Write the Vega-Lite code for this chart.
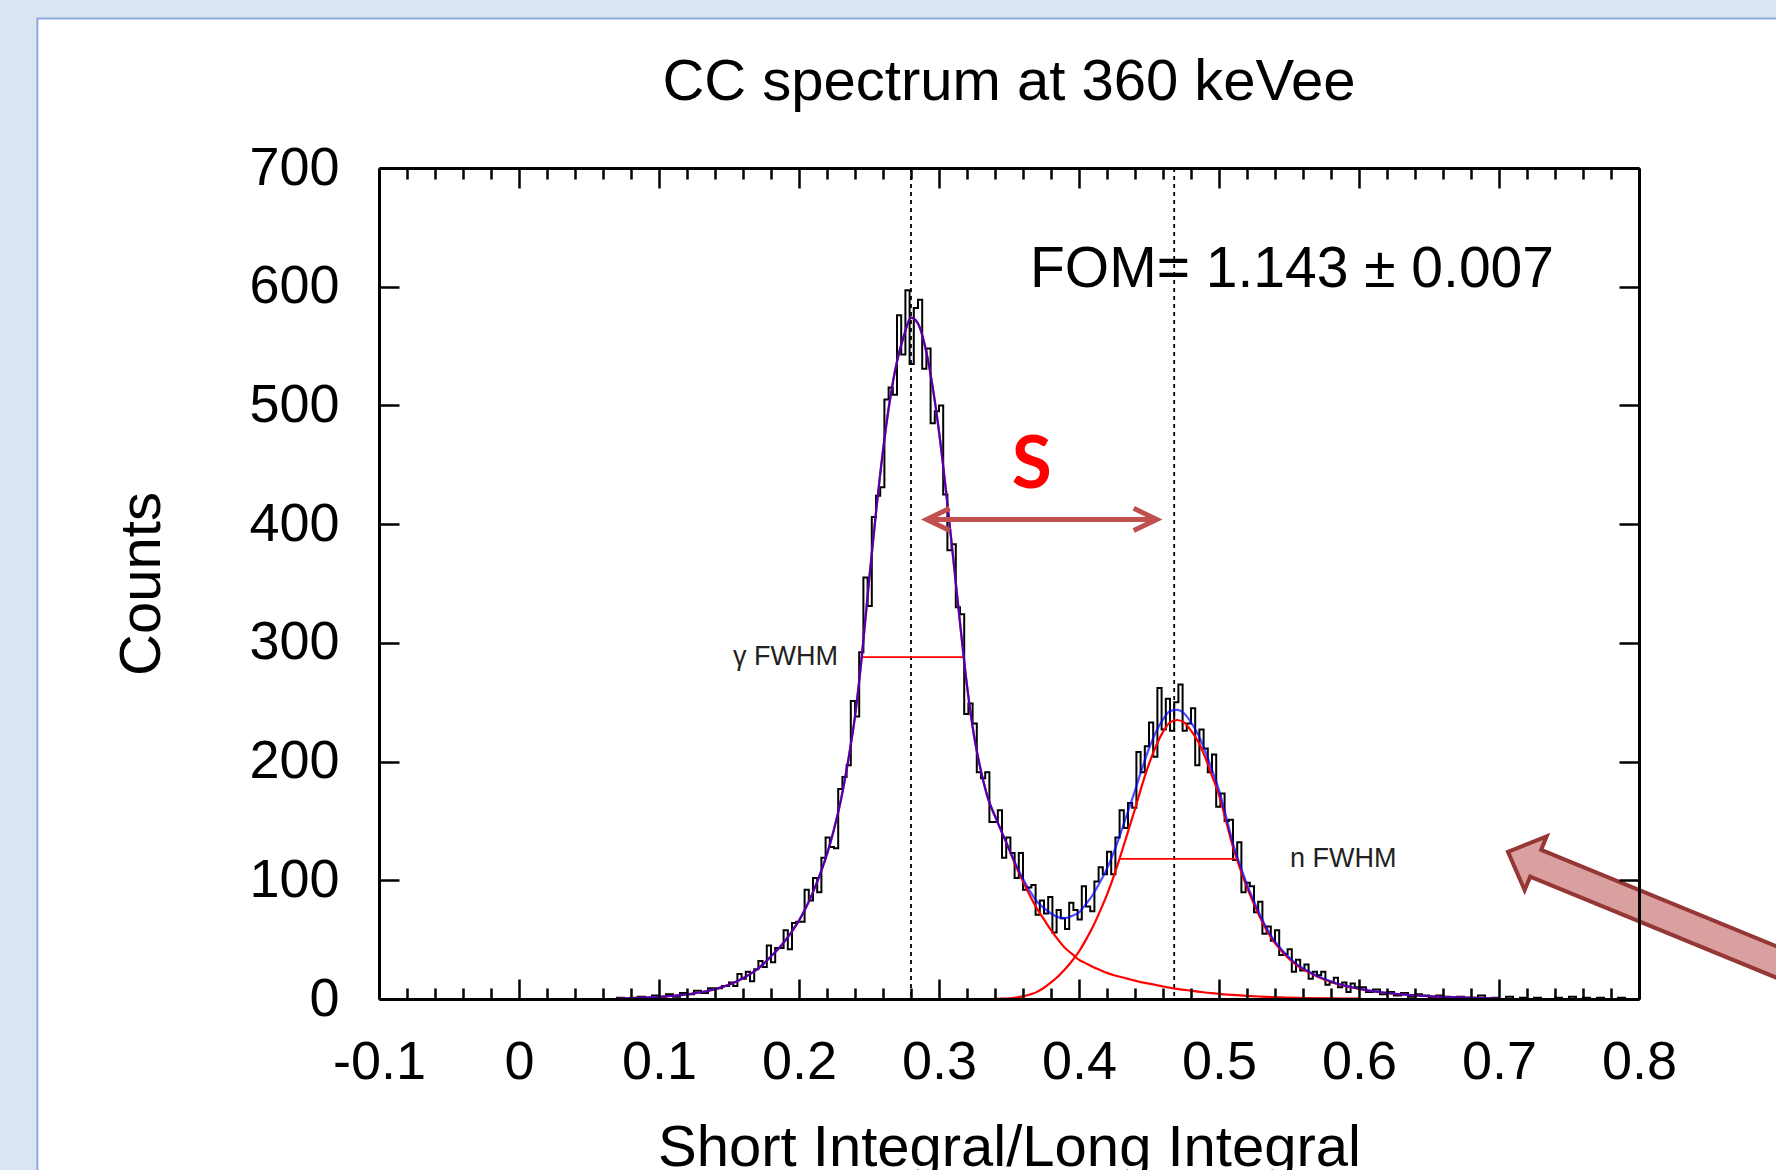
{
  "$schema": "https://vega.github.io/schema/vega-lite/v6.json",
  "width": 1260,
  "height": 831,
  "autosize": {"type": "none"},
  "padding": {"left": 379, "top": 168, "right": 137, "bottom": 171},
  "background": "#dbe5f1",
  "config": {
    "view": {"stroke": null},
    "axis": {
      "grid": false,
      "labelFont": "Liberation Sans",
      "labelFontSize": 54,
      "labelColor": "#000000",
      "labelFlush": false,
      "labelOverlap": false,
      "titleFont": "Liberation Sans",
      "titleFontSize": 58,
      "titleFontWeight": "normal",
      "titleColor": "#000000",
      "tickColor": "#000000",
      "tickWidth": 2.5,
      "domainColor": "#000000",
      "domainWidth": 3
    }
  },
  "datasets": {
    "hist": [
      {"x":0.06,"y":0},{"x":0.065,"y":0},{"x":0.07,"y":1},{"x":0.075,"y":0},{"x":0.08,"y":1},{"x":0.085,"y":2},{"x":0.09,"y":1},{"x":0.095,"y":3},{"x":0.1,"y":2},{"x":0.105,"y":4},{"x":0.11,"y":2},{"x":0.115,"y":5},{"x":0.12,"y":4},{"x":0.125,"y":7},{"x":0.13,"y":5},{"x":0.135,"y":9},{"x":0.14,"y":9},{"x":0.145,"y":11},
      {"x":0.150,"y":14},{"x":0.153,"y":11},{"x":0.156,"y":21},{"x":0.159,"y":17},{"x":0.162,"y":23},{"x":0.165,"y":15},{"x":0.168,"y":25},{"x":0.171,"y":32},{"x":0.174,"y":27},{"x":0.177,"y":45},
      {"x":0.180,"y":31},{"x":0.183,"y":43},{"x":0.186,"y":43},{"x":0.189,"y":58},{"x":0.192,"y":42},{"x":0.195,"y":64},{"x":0.198,"y":65},{"x":0.201,"y":65},{"x":0.204,"y":92},{"x":0.207,"y":83},
      {"x":0.210,"y":102},{"x":0.213,"y":90},{"x":0.216,"y":119},{"x":0.219,"y":136},{"x":0.222,"y":128},{"x":0.225,"y":127},{"x":0.228,"y":177},{"x":0.231,"y":187},{"x":0.234,"y":197},{"x":0.237,"y":251},
      {"x":0.240,"y":238},{"x":0.243,"y":292},{"x":0.246,"y":355},{"x":0.249,"y":331},{"x":0.252,"y":406},{"x":0.255,"y":424},{"x":0.258,"y":431},{"x":0.261,"y":505},{"x":0.264,"y":515},{"x":0.267,"y":509},
      {"x":0.270,"y":576},{"x":0.273,"y":543},{"x":0.276,"y":597},{"x":0.279,"y":535},{"x":0.282,"y":582},{"x":0.285,"y":589},{"x":0.288,"y":531},{"x":0.291,"y":548},{"x":0.294,"y":485},{"x":0.297,"y":495},
      {"x":0.300,"y":500},{"x":0.303,"y":425},{"x":0.306,"y":378},{"x":0.309,"y":383},{"x":0.312,"y":330},{"x":0.315,"y":324},{"x":0.318,"y":240},{"x":0.321,"y":249},{"x":0.324,"y":232},{"x":0.327,"y":191},
      {"x":0.330,"y":186},{"x":0.333,"y":191},{"x":0.336,"y":149},{"x":0.339,"y":149},{"x":0.342,"y":159},{"x":0.345,"y":119},{"x":0.348,"y":136},{"x":0.351,"y":123},{"x":0.354,"y":102},{"x":0.357,"y":123},
      {"x":0.360,"y":92},{"x":0.363,"y":94},{"x":0.366,"y":96},{"x":0.369,"y":71},{"x":0.372,"y":83},{"x":0.375,"y":72},{"x":0.378,"y":86},{"x":0.381,"y":56},{"x":0.384,"y":75},{"x":0.387,"y":68},
      {"x":0.390,"y":59},{"x":0.393,"y":81},{"x":0.396,"y":75},{"x":0.399,"y":67},{"x":0.402,"y":95},{"x":0.405,"y":78},{"x":0.408,"y":74},{"x":0.411,"y":99},{"x":0.414,"y":111},{"x":0.417,"y":105},
      {"x":0.420,"y":124},{"x":0.423,"y":105},{"x":0.426,"y":136},{"x":0.429,"y":159},{"x":0.432,"y":144},{"x":0.435,"y":165},{"x":0.438,"y":161},{"x":0.441,"y":208},{"x":0.444,"y":191},{"x":0.447,"y":213},
      {"x":0.450,"y":233},{"x":0.453,"y":204},{"x":0.456,"y":262},{"x":0.459,"y":227},{"x":0.462,"y":253},{"x":0.465,"y":226},{"x":0.468,"y":250},{"x":0.471,"y":265},{"x":0.474,"y":226},{"x":0.477,"y":232},
      {"x":0.480,"y":245},{"x":0.483,"y":197},{"x":0.486,"y":227},{"x":0.489,"y":211},{"x":0.492,"y":191},{"x":0.495,"y":206},{"x":0.498,"y":162},{"x":0.501,"y":173},{"x":0.504,"y":150},{"x":0.507,"y":151},
      {"x":0.510,"y":117},{"x":0.513,"y":132},{"x":0.516,"y":90},{"x":0.519,"y":98},{"x":0.522,"y":95},{"x":0.525,"y":73},{"x":0.528,"y":82},{"x":0.531,"y":55},{"x":0.534,"y":61},{"x":0.537,"y":49},
      {"x":0.540,"y":58},{"x":0.543,"y":37},{"x":0.546,"y":38},{"x":0.549,"y":42},{"x":0.552,"y":23},{"x":0.555,"y":33},{"x":0.558,"y":24},{"x":0.561,"y":29},{"x":0.564,"y":17},{"x":0.567,"y":23},
      {"x":0.570,"y":20},{"x":0.573,"y":23},{"x":0.576,"y":12},{"x":0.579,"y":14},{"x":0.582,"y":18},{"x":0.585,"y":10},{"x":0.588,"y":14},{"x":0.591,"y":6},{"x":0.594,"y":13},{"x":0.597,"y":10},
      {"x":0.600,"y":10},{"x":0.605,"y":6},{"x":0.610,"y":8},{"x":0.615,"y":4},{"x":0.620,"y":6},{"x":0.625,"y":3},{"x":0.630,"y":5},{"x":0.635,"y":2},{"x":0.640,"y":4},{"x":0.645,"y":3},
      {"x":0.650,"y":1},{"x":0.655,"y":3},{"x":0.660,"y":2},{"x":0.665,"y":0},{"x":0.670,"y":2},{"x":0.675,"y":1},{"x":0.680,"y":1},{"x":0.685,"y":3},{"x":0.690,"y":0},{"x":0.695,"y":1},
      {"x":0.700,"y":0},{"x":0.705,"y":2},{"x":0.710,"y":0},{"x":0.715,"y":1},{"x":0.720,"y":0},{"x":0.725,"y":1},{"x":0.730,"y":0},{"x":0.735,"y":0},{"x":0.740,"y":1},{"x":0.745,"y":0},
      {"x":0.750,"y":2},{"x":0.755,"y":0},{"x":0.760,"y":1},{"x":0.765,"y":0},{"x":0.770,"y":1},{"x":0.775,"y":0},{"x":0.780,"y":0},{"x":0.785,"y":1},{"x":0.790,"y":0},{"x":0.795,"y":0},{"x":0.800,"y":0}
    ],
    "fit": [
      {"x":0.07,"y":0.3},{"x":0.075,"y":0.5},{"x":0.08,"y":0.7},{"x":0.085,"y":0.9},{"x":0.09,"y":1.1},{"x":0.095,"y":1.4},{"x":0.1,"y":1.8},{"x":0.105,"y":2.2},{"x":0.11,"y":2.7},{"x":0.115,"y":3.2},
      {"x":0.12,"y":3.9},{"x":0.125,"y":4.7},{"x":0.13,"y":5.7},{"x":0.135,"y":6.9},{"x":0.14,"y":8.3},{"x":0.145,"y":10},{"x":0.15,"y":12},{"x":0.155,"y":14.5},{"x":0.16,"y":17.5},{"x":0.165,"y":21},
      {"x":0.17,"y":25},{"x":0.175,"y":30},{"x":0.18,"y":36},{"x":0.185,"y":42},{"x":0.19,"y":49},{"x":0.195,"y":57},{"x":0.2,"y":66},{"x":0.205,"y":77},{"x":0.21,"y":90},{"x":0.215,"y":105},
      {"x":0.22,"y":122},{"x":0.225,"y":143},{"x":0.23,"y":168},{"x":0.235,"y":200},{"x":0.24,"y":238},{"x":0.245,"y":290},{"x":0.25,"y":352},{"x":0.255,"y":410},{"x":0.26,"y":462},{"x":0.265,"y":505},
      {"x":0.27,"y":537},{"x":0.275,"y":559},{"x":0.28,"y":574},{"x":0.285,"y":569},{"x":0.29,"y":550},{"x":0.295,"y":519},{"x":0.3,"y":478},{"x":0.305,"y":428},{"x":0.31,"y":373},{"x":0.315,"y":317},
      {"x":0.32,"y":264},{"x":0.325,"y":222},{"x":0.33,"y":192},{"x":0.335,"y":169},{"x":0.34,"y":154},{"x":0.345,"y":140.3},{"x":0.35,"y":126.6},{"x":0.355,"y":113.2},{"x":0.36,"y":101.2},{"x":0.365,"y":90.8},
      {"x":0.37,"y":82},{"x":0.375,"y":76.5},{"x":0.38,"y":72},{"x":0.385,"y":69},{"x":0.39,"y":68},{"x":0.395,"y":70},{"x":0.4,"y":73},{"x":0.405,"y":80},{"x":0.41,"y":88},{"x":0.415,"y":98.5},
      {"x":0.42,"y":110},{"x":0.425,"y":124},{"x":0.43,"y":140.5},{"x":0.435,"y":158},{"x":0.44,"y":175.5},{"x":0.445,"y":194},{"x":0.45,"y":211},{"x":0.455,"y":225},{"x":0.46,"y":235.5},{"x":0.465,"y":242.5},
      {"x":0.47,"y":243.5},{"x":0.475,"y":240.7},{"x":0.48,"y":233},{"x":0.485,"y":223},{"x":0.49,"y":209.5},{"x":0.495,"y":193},{"x":0.5,"y":176},{"x":0.505,"y":154},{"x":0.51,"y":131},{"x":0.515,"y":113},
      {"x":0.52,"y":96.6},{"x":0.525,"y":82.3},{"x":0.53,"y":69},{"x":0.535,"y":57.7},{"x":0.54,"y":48.5},{"x":0.545,"y":41.3},{"x":0.55,"y":35.1},{"x":0.555,"y":29.9},{"x":0.56,"y":25.8},{"x":0.565,"y":22.6},
      {"x":0.57,"y":19.6},{"x":0.575,"y":17},{"x":0.58,"y":14.9},{"x":0.585,"y":12.8},{"x":0.59,"y":11.3},{"x":0.595,"y":9.9},{"x":0.6,"y":8.7},{"x":0.61,"y":6.6},{"x":0.62,"y":5.1},{"x":0.63,"y":3.9},
      {"x":0.64,"y":3},{"x":0.65,"y":2.3},{"x":0.66,"y":1.8},{"x":0.67,"y":1.3},{"x":0.68,"y":1},{"x":0.69,"y":0.7},{"x":0.7,"y":0.5}
    ],
    "gam": [
      {"x":0.07,"y":0.3},{"x":0.075,"y":0.5},{"x":0.08,"y":0.7},{"x":0.085,"y":0.9},{"x":0.09,"y":1.1},{"x":0.095,"y":1.4},{"x":0.1,"y":1.8},{"x":0.105,"y":2.2},{"x":0.11,"y":2.7},{"x":0.115,"y":3.2},
      {"x":0.12,"y":3.9},{"x":0.125,"y":4.7},{"x":0.13,"y":5.7},{"x":0.135,"y":6.9},{"x":0.14,"y":8.3},{"x":0.145,"y":10},{"x":0.15,"y":12},{"x":0.155,"y":14.5},{"x":0.16,"y":17.5},{"x":0.165,"y":21},
      {"x":0.17,"y":25},{"x":0.175,"y":30},{"x":0.18,"y":36},{"x":0.185,"y":42},{"x":0.19,"y":49},{"x":0.195,"y":57},{"x":0.2,"y":66},{"x":0.205,"y":77},{"x":0.21,"y":90},{"x":0.215,"y":105},
      {"x":0.22,"y":122},{"x":0.225,"y":143},{"x":0.23,"y":168},{"x":0.235,"y":200},{"x":0.24,"y":238},{"x":0.245,"y":290},{"x":0.25,"y":352},{"x":0.255,"y":410},{"x":0.26,"y":462},{"x":0.265,"y":505},
      {"x":0.27,"y":537},{"x":0.275,"y":559},{"x":0.28,"y":574},{"x":0.285,"y":569},{"x":0.29,"y":550},{"x":0.295,"y":519},{"x":0.3,"y":478},{"x":0.305,"y":428},{"x":0.31,"y":373},{"x":0.315,"y":317},
      {"x":0.32,"y":264},{"x":0.325,"y":222},{"x":0.33,"y":192},{"x":0.335,"y":169},{"x":0.34,"y":154},{"x":0.345,"y":140},{"x":0.35,"y":126},{"x":0.355,"y":112},{"x":0.36,"y":99},{"x":0.365,"y":87},
      {"x":0.37,"y":76},{"x":0.375,"y":67},{"x":0.38,"y":58},{"x":0.385,"y":50},{"x":0.39,"y":43},{"x":0.395,"y":38},{"x":0.4,"y":33},{"x":0.405,"y":30},{"x":0.41,"y":27},{"x":0.415,"y":24.5},
      {"x":0.42,"y":22},{"x":0.425,"y":20},{"x":0.43,"y":18.5},{"x":0.435,"y":17},{"x":0.44,"y":15.5},{"x":0.445,"y":14},{"x":0.45,"y":13},{"x":0.455,"y":11.8},{"x":0.46,"y":10.5},{"x":0.465,"y":9.5},
      {"x":0.47,"y":8.5},{"x":0.475,"y":7.7},{"x":0.48,"y":7},{"x":0.485,"y":6.2},{"x":0.49,"y":5.5},{"x":0.495,"y":4.9},{"x":0.5,"y":4.3},{"x":0.51,"y":3.4},{"x":0.52,"y":2.6},{"x":0.53,"y":2},
      {"x":0.54,"y":1.5},{"x":0.55,"y":1.1},{"x":0.56,"y":0.8},{"x":0.58,"y":0.45},{"x":0.6,"y":0.25}
    ],
    "neu": [
      {"x":0.34,"y":0.1},{"x":0.345,"y":0.3},{"x":0.35,"y":0.6},{"x":0.355,"y":1.2},{"x":0.36,"y":2.2},{"x":0.365,"y":3.8},{"x":0.37,"y":6},{"x":0.375,"y":9.5},{"x":0.38,"y":14},{"x":0.385,"y":19},
      {"x":0.39,"y":25},{"x":0.395,"y":32},{"x":0.4,"y":40},{"x":0.405,"y":50},{"x":0.41,"y":61},{"x":0.415,"y":74},{"x":0.42,"y":88},{"x":0.425,"y":104},{"x":0.43,"y":122},{"x":0.435,"y":141},
      {"x":0.44,"y":160},{"x":0.445,"y":180},{"x":0.45,"y":198},{"x":0.455,"y":213},{"x":0.46,"y":225},{"x":0.465,"y":233},{"x":0.47,"y":235},{"x":0.475,"y":233},{"x":0.48,"y":226},{"x":0.485,"y":217},
      {"x":0.49,"y":204},{"x":0.495,"y":188},{"x":0.5,"y":172},{"x":0.505,"y":150},{"x":0.51,"y":128},{"x":0.515,"y":110},{"x":0.52,"y":94},{"x":0.525,"y":80},{"x":0.53,"y":67},{"x":0.535,"y":56},
      {"x":0.54,"y":47},{"x":0.545,"y":40},{"x":0.55,"y":34},{"x":0.555,"y":29},{"x":0.56,"y":25},{"x":0.565,"y":22},{"x":0.57,"y":19},{"x":0.575,"y":16.5},{"x":0.58,"y":14.5},{"x":0.585,"y":12.5},
      {"x":0.59,"y":11},{"x":0.595,"y":9.7},{"x":0.6,"y":8.5},{"x":0.61,"y":6.5},{"x":0.62,"y":5},{"x":0.63,"y":3.9},{"x":0.64,"y":3},{"x":0.65,"y":2.3},{"x":0.66,"y":1.8},{"x":0.67,"y":1.3},
      {"x":0.68,"y":1},{"x":0.69,"y":0.7},{"x":0.7,"y":0.5}
    ]
  },
  "resolve": {"axis": {"x": "independent", "y": "independent"}},
  "layer": [
    {
      "data": {"values": [{}]},
      "mark": {"type": "rect", "fill": "#ffffff", "stroke": "#8eaadb", "strokeWidth": 2},
      "encoding": {
        "x": {"datum": -0.344, "type": "quantitative", "scale": {"domain": [-0.1, 0.8], "nice": false, "zero": false}, "axis": null},
        "x2": {"datum": 1.3},
        "y": {"datum": 826, "type": "quantitative", "scale": {"domain": [0, 700], "nice": false, "zero": false}, "axis": null},
        "y2": {"datum": -400}
      }
    },
    {
      "data": {"values": [{"x": 0.28}, {"x": 0.468}]},
      "mark": {"type": "rule", "color": "#000000", "strokeWidth": 1.8, "strokeDash": [4, 4]},
      "encoding": {
        "x": {"field": "x", "type": "quantitative", "scale": {"domain": [-0.1, 0.8], "nice": false, "zero": false}, "axis": null}
      }
    },
    {
      "data": {"name": "hist"},
      "mark": {"type": "line", "interpolate": "step-after", "color": "#000000", "strokeWidth": 2},
      "encoding": {
        "x": {"field": "x", "type": "quantitative", "scale": {"domain": [-0.1, 0.8], "nice": false, "zero": false},
          "axis": {"orient": "bottom", "zindex": 1, "values": [-0.1, 0, 0.1, 0.2, 0.3, 0.4, 0.5, 0.6, 0.7, 0.8], "tickSize": -20, "labelPadding": 56, "labelExpr": "'' + datum.value", "title": "Short Integral/Long Integral", "titlePadding": 30, "domain": true}},
        "y": {"field": "y", "type": "quantitative", "scale": {"domain": [0, 700], "nice": false, "zero": false},
          "axis": {"orient": "left", "zindex": 1, "values": [0, 100, 200, 300, 400, 500, 600, 700], "tickSize": -20, "labelPadding": 60, "title": "Counts", "titlePadding": 77, "domain": true}}
      }
    },
    {
      "data": {"values": [{"x": 0.2448, "x2": 0.3174, "y": 288}, {"x": 0.4293, "x2": 0.5114, "y": 118}]},
      "mark": {"type": "rule", "color": "#ff0000", "strokeWidth": 1.8},
      "encoding": {
        "x": {"field": "x", "type": "quantitative", "scale": {"domain": [-0.1, 0.8], "nice": false, "zero": false}, "axis": null},
        "x2": {"field": "x2"},
        "y": {"field": "y", "type": "quantitative", "scale": {"domain": [0, 700], "nice": false, "zero": false}, "axis": null}
      }
    },
    {
      "data": {"name": "gam"},
      "mark": {"type": "line", "interpolate": "monotone", "color": "#ff0000", "strokeWidth": 2.2},
      "encoding": {
        "x": {"field": "x", "type": "quantitative", "scale": {"domain": [-0.1, 0.8], "nice": false, "zero": false},
          "axis": {"orient": "top", "zindex": 1, "values": [-0.1, 0, 0.1, 0.2, 0.3, 0.4, 0.5, 0.6, 0.7, 0.8], "tickSize": -20, "labels": false, "title": null, "domain": true}},
        "y": {"field": "y", "type": "quantitative", "scale": {"domain": [0, 700], "nice": false, "zero": false}, "axis": null}
      }
    },
    {
      "data": {"name": "neu"},
      "mark": {"type": "line", "interpolate": "monotone", "color": "#ff0000", "strokeWidth": 2.2},
      "encoding": {
        "x": {"field": "x", "type": "quantitative", "scale": {"domain": [-0.1, 0.8], "nice": false, "zero": false},
          "axis": {"orient": "top", "zindex": 1, "values": [-0.08,-0.06,-0.04,-0.02,0.02,0.04,0.06,0.08,0.12,0.14,0.16,0.18,0.22,0.24,0.26,0.28,0.32,0.34,0.36,0.38,0.42,0.44,0.46,0.48,0.52,0.54,0.56,0.58,0.62,0.64,0.66,0.68,0.72,0.74,0.76,0.78], "tickSize": -11, "labels": false, "title": null, "domain": false}},
        "y": {"field": "y", "type": "quantitative", "scale": {"domain": [0, 700], "nice": false, "zero": false}, "axis": null}
      }
    },
    {
      "data": {"name": "fit"},
      "mark": {"type": "line", "interpolate": "monotone", "color": "#0000ff", "strokeWidth": 2.2, "opacity": 0.7},
      "encoding": {
        "x": {"field": "x", "type": "quantitative", "scale": {"domain": [-0.1, 0.8], "nice": false, "zero": false},
          "axis": {"orient": "bottom", "zindex": 1, "values": [-0.08,-0.06,-0.04,-0.02,0.02,0.04,0.06,0.08,0.12,0.14,0.16,0.18,0.22,0.24,0.26,0.28,0.32,0.34,0.36,0.38,0.42,0.44,0.46,0.48,0.52,0.54,0.56,0.58,0.62,0.64,0.66,0.68,0.72,0.74,0.76,0.78], "tickSize": -11, "labels": false, "title": null, "domain": false}},
        "y": {"field": "y", "type": "quantitative", "scale": {"domain": [0, 700], "nice": false, "zero": false},
          "axis": {"orient": "right", "zindex": 1, "values": [0, 100, 200, 300, 400, 500, 600, 700], "tickSize": -20, "labels": false, "title": null, "domain": true}}
      }
    },
    {
      "data": {"values": [{"x": 0.35, "y": 757.4, "t": "CC spectrum at 360 keVee"}]},
      "mark": {"type": "text", "font": "Liberation Sans", "fontSize": 58, "align": "center", "baseline": "alphabetic", "color": "#000000"},
      "encoding": {
        "x": {"field": "x", "type": "quantitative", "scale": {"domain": [-0.1, 0.8], "nice": false, "zero": false}, "axis": null},
        "y": {"field": "y", "type": "quantitative", "scale": {"domain": [0, 700], "nice": false, "zero": false}, "axis": null},
        "text": {"field": "t"}
      }
    },
    {
      "data": {"values": [{"x": 0.365, "y": 600, "t": "FOM= 1.143 ± 0.007"}]},
      "mark": {"type": "text", "font": "Liberation Sans", "fontSize": 57, "align": "left", "baseline": "alphabetic", "color": "#000000"},
      "encoding": {
        "x": {"field": "x", "type": "quantitative", "scale": {"domain": [-0.1, 0.8], "nice": false, "zero": false}, "axis": null},
        "y": {"field": "y", "type": "quantitative", "scale": {"domain": [0, 700], "nice": false, "zero": false}, "axis": null},
        "text": {"field": "t"}
      }
    },
    {
      "data": {"values": [{"x": 0.2279, "y": 288, "t": "γ FWHM"}]},
      "mark": {"type": "text", "font": "Liberation Sans", "fontSize": 27, "align": "right", "baseline": "middle", "color": "#222222"},
      "encoding": {
        "x": {"field": "x", "type": "quantitative", "scale": {"domain": [-0.1, 0.8], "nice": false, "zero": false}, "axis": null},
        "y": {"field": "y", "type": "quantitative", "scale": {"domain": [0, 700], "nice": false, "zero": false}, "axis": null},
        "text": {"field": "t"}
      }
    },
    {
      "data": {"values": [{"x": 0.5507, "y": 118, "t": "n FWHM"}]},
      "mark": {"type": "text", "font": "Liberation Sans", "fontSize": 27, "align": "left", "baseline": "middle", "color": "#222222"},
      "encoding": {
        "x": {"field": "x", "type": "quantitative", "scale": {"domain": [-0.1, 0.8], "nice": false, "zero": false}, "axis": null},
        "y": {"field": "y", "type": "quantitative", "scale": {"domain": [0, 700], "nice": false, "zero": false}, "axis": null},
        "text": {"field": "t"}
      }
    },
    {
      "data": {"values": [{"x": 0.3662, "y": 449, "t": "S"}]},
      "mark": {"type": "text", "font": "Lato", "fontWeight": "bold", "fontSize": 73, "align": "center", "baseline": "middle", "color": "#ff0000"},
      "encoding": {
        "x": {"field": "x", "type": "quantitative", "scale": {"domain": [-0.1, 0.8], "nice": false, "zero": false}, "axis": null},
        "y": {"field": "y", "type": "quantitative", "scale": {"domain": [0, 700], "nice": false, "zero": false}, "axis": null},
        "text": {"field": "t"}
      }
    },
    {
      "data": {"values": [{"x": 0.2925, "x2": 0.4542, "y": 404}]},
      "mark": {"type": "rule", "color": "#c0504d", "strokeWidth": 5},
      "encoding": {
        "x": {"field": "x", "type": "quantitative", "scale": {"domain": [-0.1, 0.8], "nice": false, "zero": false}, "axis": null},
        "x2": {"field": "x2"},
        "y": {"field": "y", "type": "quantitative", "scale": {"domain": [0, 700], "nice": false, "zero": false}, "axis": null}
      }
    },
    {
      "data": {"values": [{"x": 0.2912, "y": 404}]},
      "mark": {"type": "point", "shape": "M 1 -0.48 L 0 0 L 1 0.48", "size": 2116, "filled": false, "stroke": "#c0504d", "strokeWidth": 5, "opacity": 1},
      "encoding": {
        "x": {"field": "x", "type": "quantitative", "scale": {"domain": [-0.1, 0.8], "nice": false, "zero": false}, "axis": null},
        "y": {"field": "y", "type": "quantitative", "scale": {"domain": [0, 700], "nice": false, "zero": false}, "axis": null}
      }
    },
    {
      "data": {"values": [{"x": 0.4555, "y": 404}]},
      "mark": {"type": "point", "shape": "M -1 -0.48 L 0 0 L -1 0.48", "size": 2116, "filled": false, "stroke": "#c0504d", "strokeWidth": 5, "opacity": 1},
      "encoding": {
        "x": {"field": "x", "type": "quantitative", "scale": {"domain": [-0.1, 0.8], "nice": false, "zero": false}, "axis": null},
        "y": {"field": "y", "type": "quantitative", "scale": {"domain": [0, 700], "nice": false, "zero": false}, "axis": null}
      }
    },
    {
      "data": {"values": [{"x": 0.8518, "y": 53.6}]},
      "mark": {"type": "point", "shape": "M -1 0 L -0.864 -0.132 L -0.864 -0.066 L 1 -0.066 L 1 0.066 L -0.864 0.066 L -0.864 0.132 Z", "size": 193600, "angle": 22.3, "filled": true, "fill": "#d48f8e", "fillOpacity": 0.85, "stroke": "#953735", "strokeWidth": 4, "strokeOpacity": 1, "opacity": 1},
      "encoding": {
        "x": {"field": "x", "type": "quantitative", "scale": {"domain": [-0.1, 0.8], "nice": false, "zero": false}, "axis": null},
        "y": {"field": "y", "type": "quantitative", "scale": {"domain": [0, 700], "nice": false, "zero": false}, "axis": null}
      }
    }
  ]
}
